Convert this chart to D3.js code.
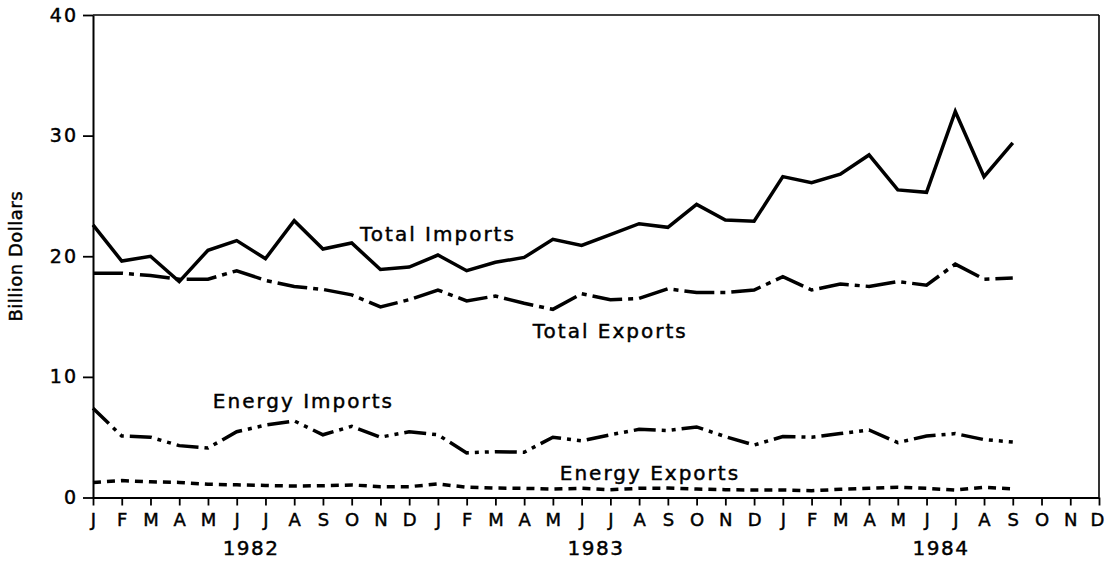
<!DOCTYPE html>
<html>
<head>
<meta charset="utf-8">
<script src="https://cdn.jsdelivr.net/npm/d3@7"></script>
<style>
  body { margin: 0; background: #fff; }
  svg { display: block; font-family: 'DejaVu Sans', sans-serif; }
  svg text { stroke: #000; stroke-width: 0.45px; fill: #000; }
</style>
</head>
<body>
<div id="chart"></div>
<script>
'use strict';

const monthLabels = ['J', 'F', 'M', 'A', 'M', 'J', 'J', 'A', 'S', 'O', 'N', 'D'];
const yearLabels = ['1982', '1983', '1984'];
const yTicks = [0, 10, 20, 30, 40];

// monthly values, Jan 1982 .. Sep 1984
const totalImports = [22.6, 19.6, 20.0, 17.9, 20.5, 21.3, 19.8, 22.95, 20.6, 21.1, 18.9, 19.1,
    20.1, 18.8, 19.5, 19.9, 21.4, 20.9, 21.8, 22.7, 22.4, 24.3, 23.0, 22.9,
    26.6, 26.1, 26.8, 28.4, 25.5, 25.3, 32.0, 26.6, 29.4];
const totalExports = [18.6, 18.6, 18.4, 18.1, 18.1, 18.8, 18.0, 17.5, 17.25, 16.8, 15.8, 16.4,
    17.2, 16.3, 16.7, 16.1, 15.6, 16.9, 16.4, 16.5, 17.3, 17.0, 17.0, 17.2,
    18.3, 17.2, 17.7, 17.5, 17.9, 17.6, 19.35, 18.1, 18.2];
const energyImports = [7.4, 5.1, 5.0, 4.3, 4.1, 5.45, 6.0, 6.35, 5.2, 5.9, 5.0, 5.45,
    5.2, 3.7, 3.8, 3.75, 5.0, 4.7, 5.2, 5.65, 5.55, 5.85, 5.05, 4.35,
    5.05, 5.0, 5.3, 5.6, 4.55, 5.1, 5.3, 4.8, 4.6];
const energyExports = [1.25, 1.4, 1.3, 1.25, 1.1, 1.05, 1.0, 0.95, 0.98, 1.04, 0.9, 0.9,
    1.12, 0.85, 0.78, 0.76, 0.7, 0.76, 0.65, 0.76, 0.78, 0.7, 0.65, 0.62,
    0.62, 0.56, 0.68, 0.76, 0.85, 0.76, 0.62, 0.85, 0.72];

const width = 1105;
const height = 561;
const margin = { top: 15, right: 6, bottom: 63.5, left: 93 };
const chartWidth = width - margin.left - margin.right;
const chartHeight = height - margin.top - margin.bottom;

const svg = d3.select('#chart')
    .append('svg')
    .attr('width', width)
    .attr('height', height);

const chart = svg.append('g')
    .attr('transform', `translate(${margin.left},${margin.top})`);

const xScale = d3.scaleLinear()
    .domain([0, monthLabels.length * yearLabels.length - 1])
    .range([0, chartWidth]);

const yScale = d3.scaleLinear()
    .domain([0, 40])
    .range([chartHeight, 0]);

// frame top and right
chart.append('line')
    .attr('x1', 0).attr('x2', chartWidth)
    .attr('y1', 0).attr('y2', 0)
    .attr('stroke', '#000').attr('stroke-width', 1.6);
chart.append('line')
    .attr('x1', chartWidth).attr('x2', chartWidth)
    .attr('y1', 0).attr('y2', chartHeight)
    .attr('stroke', '#000').attr('stroke-width', 1.6);

const xAxis = d3.axisBottom(xScale)
    .tickValues(d3.range(monthLabels.length * yearLabels.length))
    .tickFormat(function (d) { return monthLabels[d % 12]; })
    .tickSize(8)
    .tickSizeOuter(0)
    .tickPadding(8);

const yAxis = d3.axisLeft(yScale)
    .tickValues(yTicks)
    .tickSize(10)
    .tickSizeOuter(0)
    .tickPadding(5);

const xg = chart.append('g')
    .attr('transform', `translate(0,${chartHeight})`)
    .call(xAxis);

const yg = chart.append('g')
    .call(yAxis);

[xg, yg].forEach(function (g) {
    g.select('.domain').attr('stroke-width', 2);
    g.selectAll('.tick line').attr('stroke-width', 1.8);
    g.selectAll('.tick text')
        .attr('font-family', 'DejaVu Sans, sans-serif');
});

xg.selectAll('.tick text')
    .attr('font-size', 18)
    .attr('dx', function (d) { return d === 35 ? -2 : 0; });

yg.selectAll('.tick text')
    .attr('font-size', 19)
    .attr('letter-spacing', 2);

chart.selectAll('text.year-label')
    .data(yearLabels)
    .join('text')
    .attr('class', 'year-label')
    .attr('x', function (d, i) { return xScale(i * 12 + 5.5); })
    .attr('y', chartHeight + 57)
    .attr('text-anchor', 'middle')
    .attr('font-size', 20)
    .attr('letter-spacing', 1.5)
    .text(function (d) { return d; });

svg.append('text')
    .attr('transform', `translate(22,${margin.top + chartHeight / 2}) rotate(-90)`)
    .attr('text-anchor', 'middle')
    .attr('font-size', 18)
    .attr('letter-spacing', 0.5)
    .text('Billion Dollars');

const series = [
    { name: 'Total Imports', values: totalImports, dash: null, labelAt: [9.29, 21.3] },
    { name: 'Total Exports', values: totalExports, dash: '30,6,5,6', labelAt: [15.3, 13.2] },
    { name: 'Energy Imports', values: energyImports, dash: '22,6,4,6,4,6', labelAt: [4.17, 7.4] },
    { name: 'Energy Exports', values: energyExports, dash: '8,6', labelAt: [16.24, 1.45] }
];

const line = d3.line()
    .x(function (d, i) { return xScale(i); })
    .y(function (d) { return yScale(d); });

chart.selectAll('path.series')
    .data(series)
    .join('path')
    .attr('class', 'series')
    .attr('d', function (d) { return line(d.values); })
    .attr('fill', 'none')
    .attr('stroke', '#000')
    .attr('stroke-width', 3.5)
    .attr('stroke-linejoin', 'miter')
    .attr('stroke-dasharray', function (d) { return d.dash; });

chart.selectAll('text.series-label')
    .data(series)
    .join('text')
    .attr('class', 'series-label')
    .attr('x', function (d) { return xScale(d.labelAt[0]); })
    .attr('y', function (d) { return yScale(d.labelAt[1]); })
    .attr('font-size', 20)
    .attr('letter-spacing', 2)
    .text(function (d) { return d.name; });
</script>
</body>
</html>
